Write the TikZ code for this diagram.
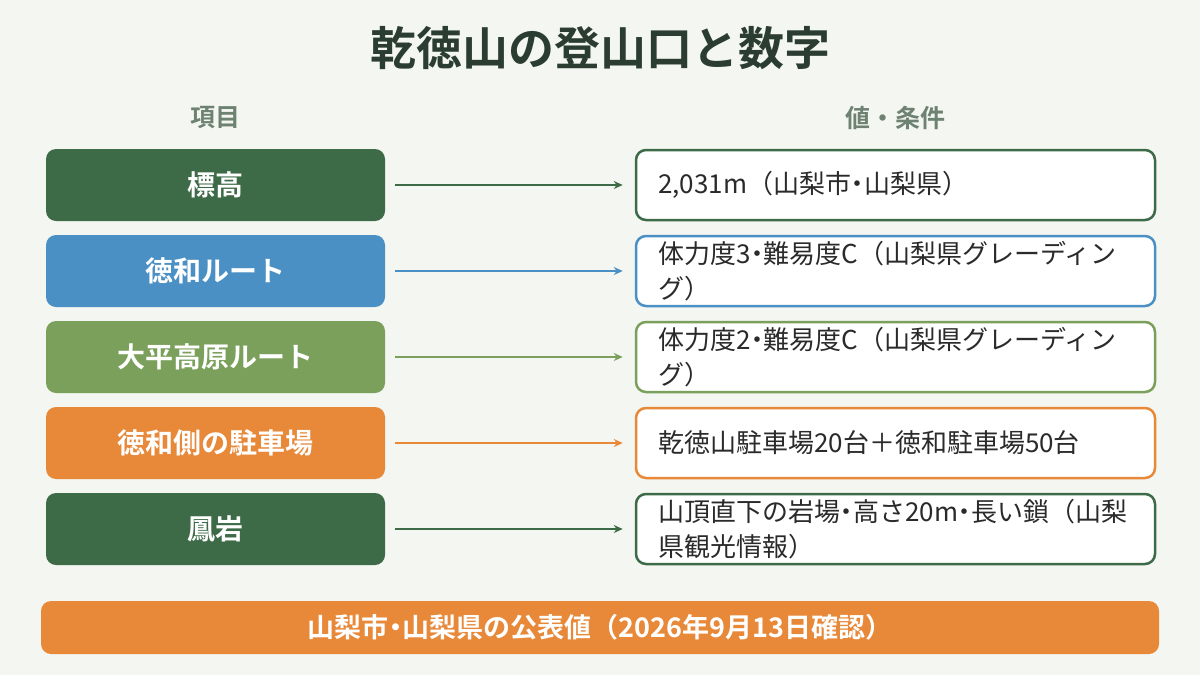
\documentclass[tikz,border=0pt]{standalone}
\usepackage{fontspec}
\setmainfont{Noto Sans CJK JP}[BoldFont={Noto Sans CJK JP Bold}]
\usetikzlibrary{arrows.meta}
\definecolor{bg}{HTML}{F4F6F1}
\definecolor{titlec}{HTML}{2B3D30}
\definecolor{headc}{HTML}{6E8272}
\definecolor{dgreen}{HTML}{3D6B47}
\definecolor{blue}{HTML}{4A90C4}
\definecolor{lgreen}{HTML}{7BA05B}
\definecolor{orange}{HTML}{E8893A}
\definecolor{txt}{HTML}{2A2A2A}
\newcommand{\mydot}{\hspace{-0.25em}・\hspace{-0.25em}}
\tikzset{
  keybox/.style={rounded corners=10pt, minimum width=339pt, minimum height=72pt, inner sep=0pt, text=white, font=\fontsize{28}{32}\selectfont\bfseries},
  valbox/.style={draw, line width=2.5pt, fill=white, rounded corners=10pt, minimum width=519pt, minimum height=70pt, inner sep=0pt},
  valtext/.style={anchor=west, align=left, inner sep=0pt, text=txt, font=\fontsize{26}{35}\selectfont},
  conn/.style={line width=2pt, -{Stealth[length=9pt,width=8pt]}},
  head/.style={text=headc, font=\fontsize{25}{30}\selectfont\bfseries}
}
\begin{document}
\begin{tikzpicture}[x=1pt,y=-1pt]
\fill[bg] (0,0) rectangle (1200,675);
\useasboundingbox (0,0) rectangle (1200,675);
\node[text=titlec, font=\fontsize{46}{54}\selectfont\bfseries] (title) at (600,48) {乾徳山の登山口と数字};
\node[head] (h1) at (215,118) {項目};
\node[head] (h2) at (895,118) {値・条件};
\foreach \i/\y/\c/\k/\v in {
  1/185/dgreen/標高/{2,031m（山梨市\mydot 山梨県）},
  2/271/blue/徳和ルート/{体力度3\mydot 難易度C（山梨県グレーディン\\グ）},
  3/357/lgreen/大平高原ルート/{体力度2\mydot 難易度C（山梨県グレーディン\\グ）},
  4/443/orange/徳和側の駐車場/{乾徳山駐車場20台＋徳和駐車場50台},
  5/529/dgreen/鳳岩/{山頂直下の岩場\mydot 高さ20m\mydot 長い鎖（山梨\\県観光情報）}}{
  \node[keybox, fill=\c] (k\i) at (215.5,\y) {\k};
  \node[valbox, draw=\c] (v\i) at (895.5,\y) {};
  \node[valtext] (t\i) at (658,\y) {\v};
  \draw[conn, draw=\c] (k\i.east) ++(10,0) coordinate (s\i) -- ([xshift=-12pt]v\i.west);
}
\node[fill=orange, rounded corners=10pt, minimum width=1118pt, minimum height=53pt, inner sep=0pt, text=white, font=\fontsize{27}{30}\selectfont\bfseries] (foot) at (600,627.5) {山梨市\mydot 山梨県の公表値（2026年9月13日確認）};
\end{tikzpicture}
\end{document}
